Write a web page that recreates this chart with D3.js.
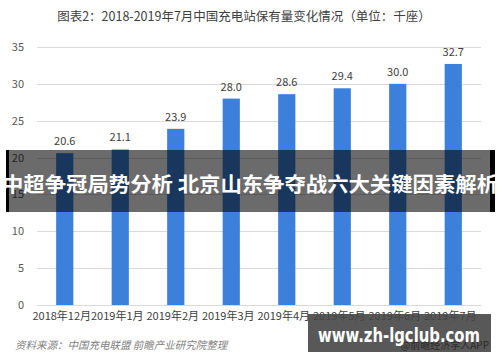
<!DOCTYPE html>
<html><head><meta charset="utf-8">
<script src="https://cdn.jsdelivr.net/npm/d3@7"></script>
<style>html,body{margin:0;padding:0;background:#fff;}svg{display:block;}</style>
</head><body>
<script>
const categories = ["2018年12月","2019年1月","2019年2月","2019年3月","2019年4月","2019年5月","2019年6月","2019年7月"];
const values = [20.6, 21.1, 23.9, 28.0, 28.6, 29.4, 30.0, 32.7];
const yTicks = [0, 5, 10, 15, 20, 25, 30, 35];
const titleText = "图表2：2018-2019年7月中国充电站保有量变化情况（单位：千座）";
const sourceText = "资料来源：中国充电联盟 前瞻产业研究院整理";
const bannerText = "中超争冠局势分析 北京山东争夺战六大关键因素解析";
const siteText = "www.zh-lgclub.com";
const appText = "@前瞻经济学人APP";

const W = 500, H = 362;
const font = "'Noto Sans CJK SC','Microsoft YaHei',sans-serif";
const svg = d3.select("body").append("svg").attr("width", W).attr("height", H)
  .style("font-family", font);

const x = d3.scaleBand().domain(categories).range([37, 481]).paddingInner(0.69).paddingOuter(0.345);
const y = d3.scaleLinear().domain([0, 35]).range([305, 47]);

svg.append("text").attr("x", 244).attr("y", 21).attr("text-anchor", "middle")
  .attr("font-size", 12.5).attr("fill", "#404040").text(titleText);

// grid
svg.append("g").selectAll("line").data(yTicks).join("line")
  .attr("x1", 37).attr("x2", 481)
  .attr("y1", d => Math.round(y(d)) + 0.5).attr("y2", d => Math.round(y(d)) + 0.5)
  .attr("stroke", "#d9d9d9").attr("stroke-width", 1);

// y axis
const yAxis = d3.axisLeft(y).tickValues(yTicks).tickSize(0).tickPadding(0);
const gy = svg.append("g").attr("transform", "translate(24,0)").call(yAxis);
gy.select(".domain").remove();
gy.selectAll("text").attr("font-size", 11).attr("fill", "#595959").attr("font-family", font);

// bars
svg.append("g").selectAll("rect").data(values).join("rect")
  .attr("x", (d, i) => x(categories[i])).attr("width", x.bandwidth())
  .attr("y", d => y(d)).attr("height", d => y(0) - y(d))
  .attr("fill", "#3d80dc");

svg.append("g").selectAll("text").data(values).join("text")
  .attr("x", (d, i) => x(categories[i]) + x.bandwidth() / 2)
  .attr("y", d => y(d) - 8).attr("text-anchor", "middle")
  .attr("font-size", 11).attr("fill", "#404040").text(d => d.toFixed(1));

// x axis
const xAxis = d3.axisBottom(x).tickSize(0).tickPadding(0);
const gx = svg.append("g").attr("transform", "translate(-3,310)").call(xAxis);
gx.select(".domain").remove();
gx.selectAll("text").attr("font-size", 11).attr("fill", "#404040").attr("font-family", font).attr("dy", "0.9em");

// source
svg.append("text").attr("x", 15).attr("y", 349).attr("font-size", 10.5)
  .attr("font-style", "italic").attr("fill", "#7f7f7f").text(sourceText);

// banner overlay
svg.append("rect").attr("x", 6).attr("y", 150).attr("width", 489).attr("height", 62)
  .attr("fill", "rgba(0,0,0,0.58)");
svg.append("rect").attr("x", 6).attr("y", 150).attr("width", 3).attr("height", 62).attr("fill", "#000");
svg.append("rect").attr("x", 490).attr("y", 150).attr("width", 5).attr("height", 62).attr("fill", "#000");
svg.append("text").attr("x", 250).attr("y", 192).attr("text-anchor", "middle")
  .attr("font-size", 20.5).attr("font-weight", "bold").attr("fill", "#fff")
  .attr("textLength", 496).attr("lengthAdjust", "spacingAndGlyphs").text(bannerText);

// site watermark
svg.append("rect").attr("x", 308).attr("y", 314).attr("width", 183).attr("height", 38)
  .attr("fill", "rgba(70,70,70,0.9)");
svg.append("text").attr("x", 489).attr("y", 349).attr("text-anchor", "end")
  .attr("font-size", 10).attr("fill", "#2a2a2a").text(appText);
svg.append("text").attr("x", 399).attr("y", 342).attr("text-anchor", "middle")
  .attr("font-size", 20).attr("font-weight", "bold").attr("fill", "#fff")
  .attr("font-family", "'DejaVu Sans',sans-serif")
  .attr("textLength", 162).attr("lengthAdjust", "spacingAndGlyphs").text(siteText);
</script>
</body></html>
